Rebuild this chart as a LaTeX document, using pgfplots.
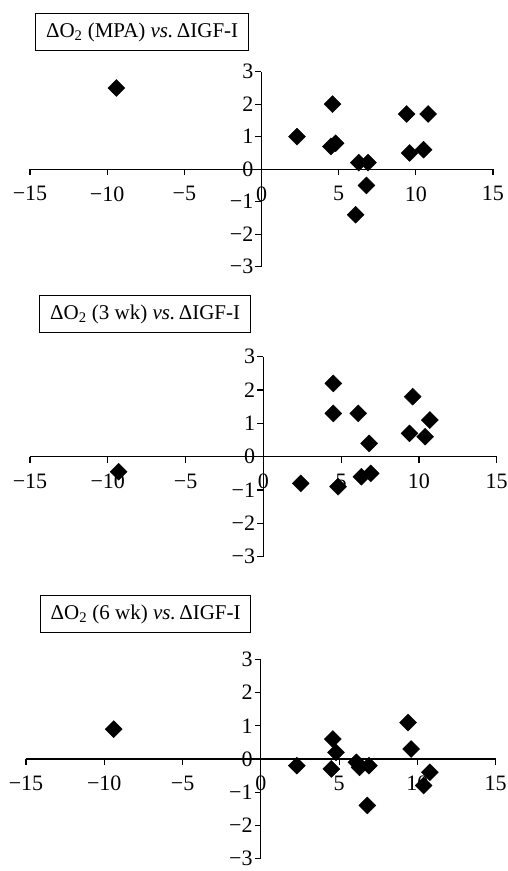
\documentclass[border=0pt]{standalone}
\usepackage{fontspec}
\setmainfont{Liberation Serif}
\usepackage{pgfplots}
\pgfplotsset{compat=1.18}
\pgfplotsset{panel/.style={
  scale only axis,
  axis lines=middle,
  axis line style={-, line width=1.2pt},
  xmin=-15,xmax=15,ymin=-3,ymax=3,
  xtick={-15,-10,-5,0,5,10,15},
  xticklabels={−15,−10,−5,0,5,10,15},
  ytick={-3,-2,-1,0,1,2,3},
  yticklabels={−3,−2,−1,0,1,2,3},
  hide obscured x ticks=false,
  hide obscured y ticks=false,
  tick align=outside,
  major tick length=6pt,
  tick style={line width=1.2pt, black},
  ticklabel style={font=\fontsize{22}{22}\selectfont, inner sep=2pt},
  xticklabel style={yshift=-9pt},
  clip=false,
  anchor=south west,
}}
\tikzset{ttl/.style={draw, line width=1.3pt, anchor=north west, minimum height=37pt, inner sep=0pt, font=\fontsize{21}{21}\selectfont}}
\begin{document}
\begin{tikzpicture}
\useasboundingbox (0,0) rectangle (508pt,-871pt);
% panel 1
\begin{axis}[panel, width=463pt, height=195pt, at={(30pt,-266.7pt)}]
\addplot[only marks, mark=square*, mark size=6pt, mark options={rotate=45, fill=black, draw=black}] table {
x y
-9.4 2.5
2.3 1.0
4.6 2.0
4.5 0.7
4.8 0.8
6.3 0.2
6.9 0.2
6.8 -0.5
6.1 -1.4
9.4 1.7
10.8 1.7
9.6 0.5
10.5 0.6
};
\end{axis}
\node[ttl, minimum width=213pt] at (35pt,-13pt) {ΔO\textsubscript{2} (MPA) \textit{vs.}\,ΔIGF-I};
% panel 2
\begin{axis}[panel, width=466.7pt, height=200pt, at={(30pt,-556.7pt)}]
\addplot[only marks, mark=square*, mark size=6pt, mark options={rotate=45, fill=black, draw=black}] table {
x y
-9.3 -0.45
2.4 -0.8
4.5 2.2
4.5 1.3
4.8 -0.9
6.1 1.3
6.3 -0.6
6.9 -0.5
6.8 0.4
9.4 0.7
9.6 1.8
10.4 0.6
10.7 1.1
};
\end{axis}
\node[ttl, minimum width=211pt] at (39pt,-295pt) {ΔO\textsubscript{2} (3 wk) \textit{vs.}\,ΔIGF-I};
% panel 3
\begin{axis}[panel, width=469.7pt, height=199pt, at={(26pt,-858.5pt)}]
\addplot[only marks, mark=square*, mark size=6pt, mark options={rotate=45, fill=black, draw=black}] table {
x y
-9.4 0.9
2.3 -0.2
4.6 0.6
4.8 0.2
4.5 -0.3
6.1 -0.1
6.3 -0.25
6.9 -0.2
6.8 -1.4
9.4 1.1
9.6 0.3
10.4 -0.8
10.8 -0.4
};
\end{axis}
\node[ttl, minimum width=210pt] at (40pt,-595pt) {ΔO\textsubscript{2} (6 wk) \textit{vs.}\,ΔIGF-I};
\end{tikzpicture}
\end{document}
